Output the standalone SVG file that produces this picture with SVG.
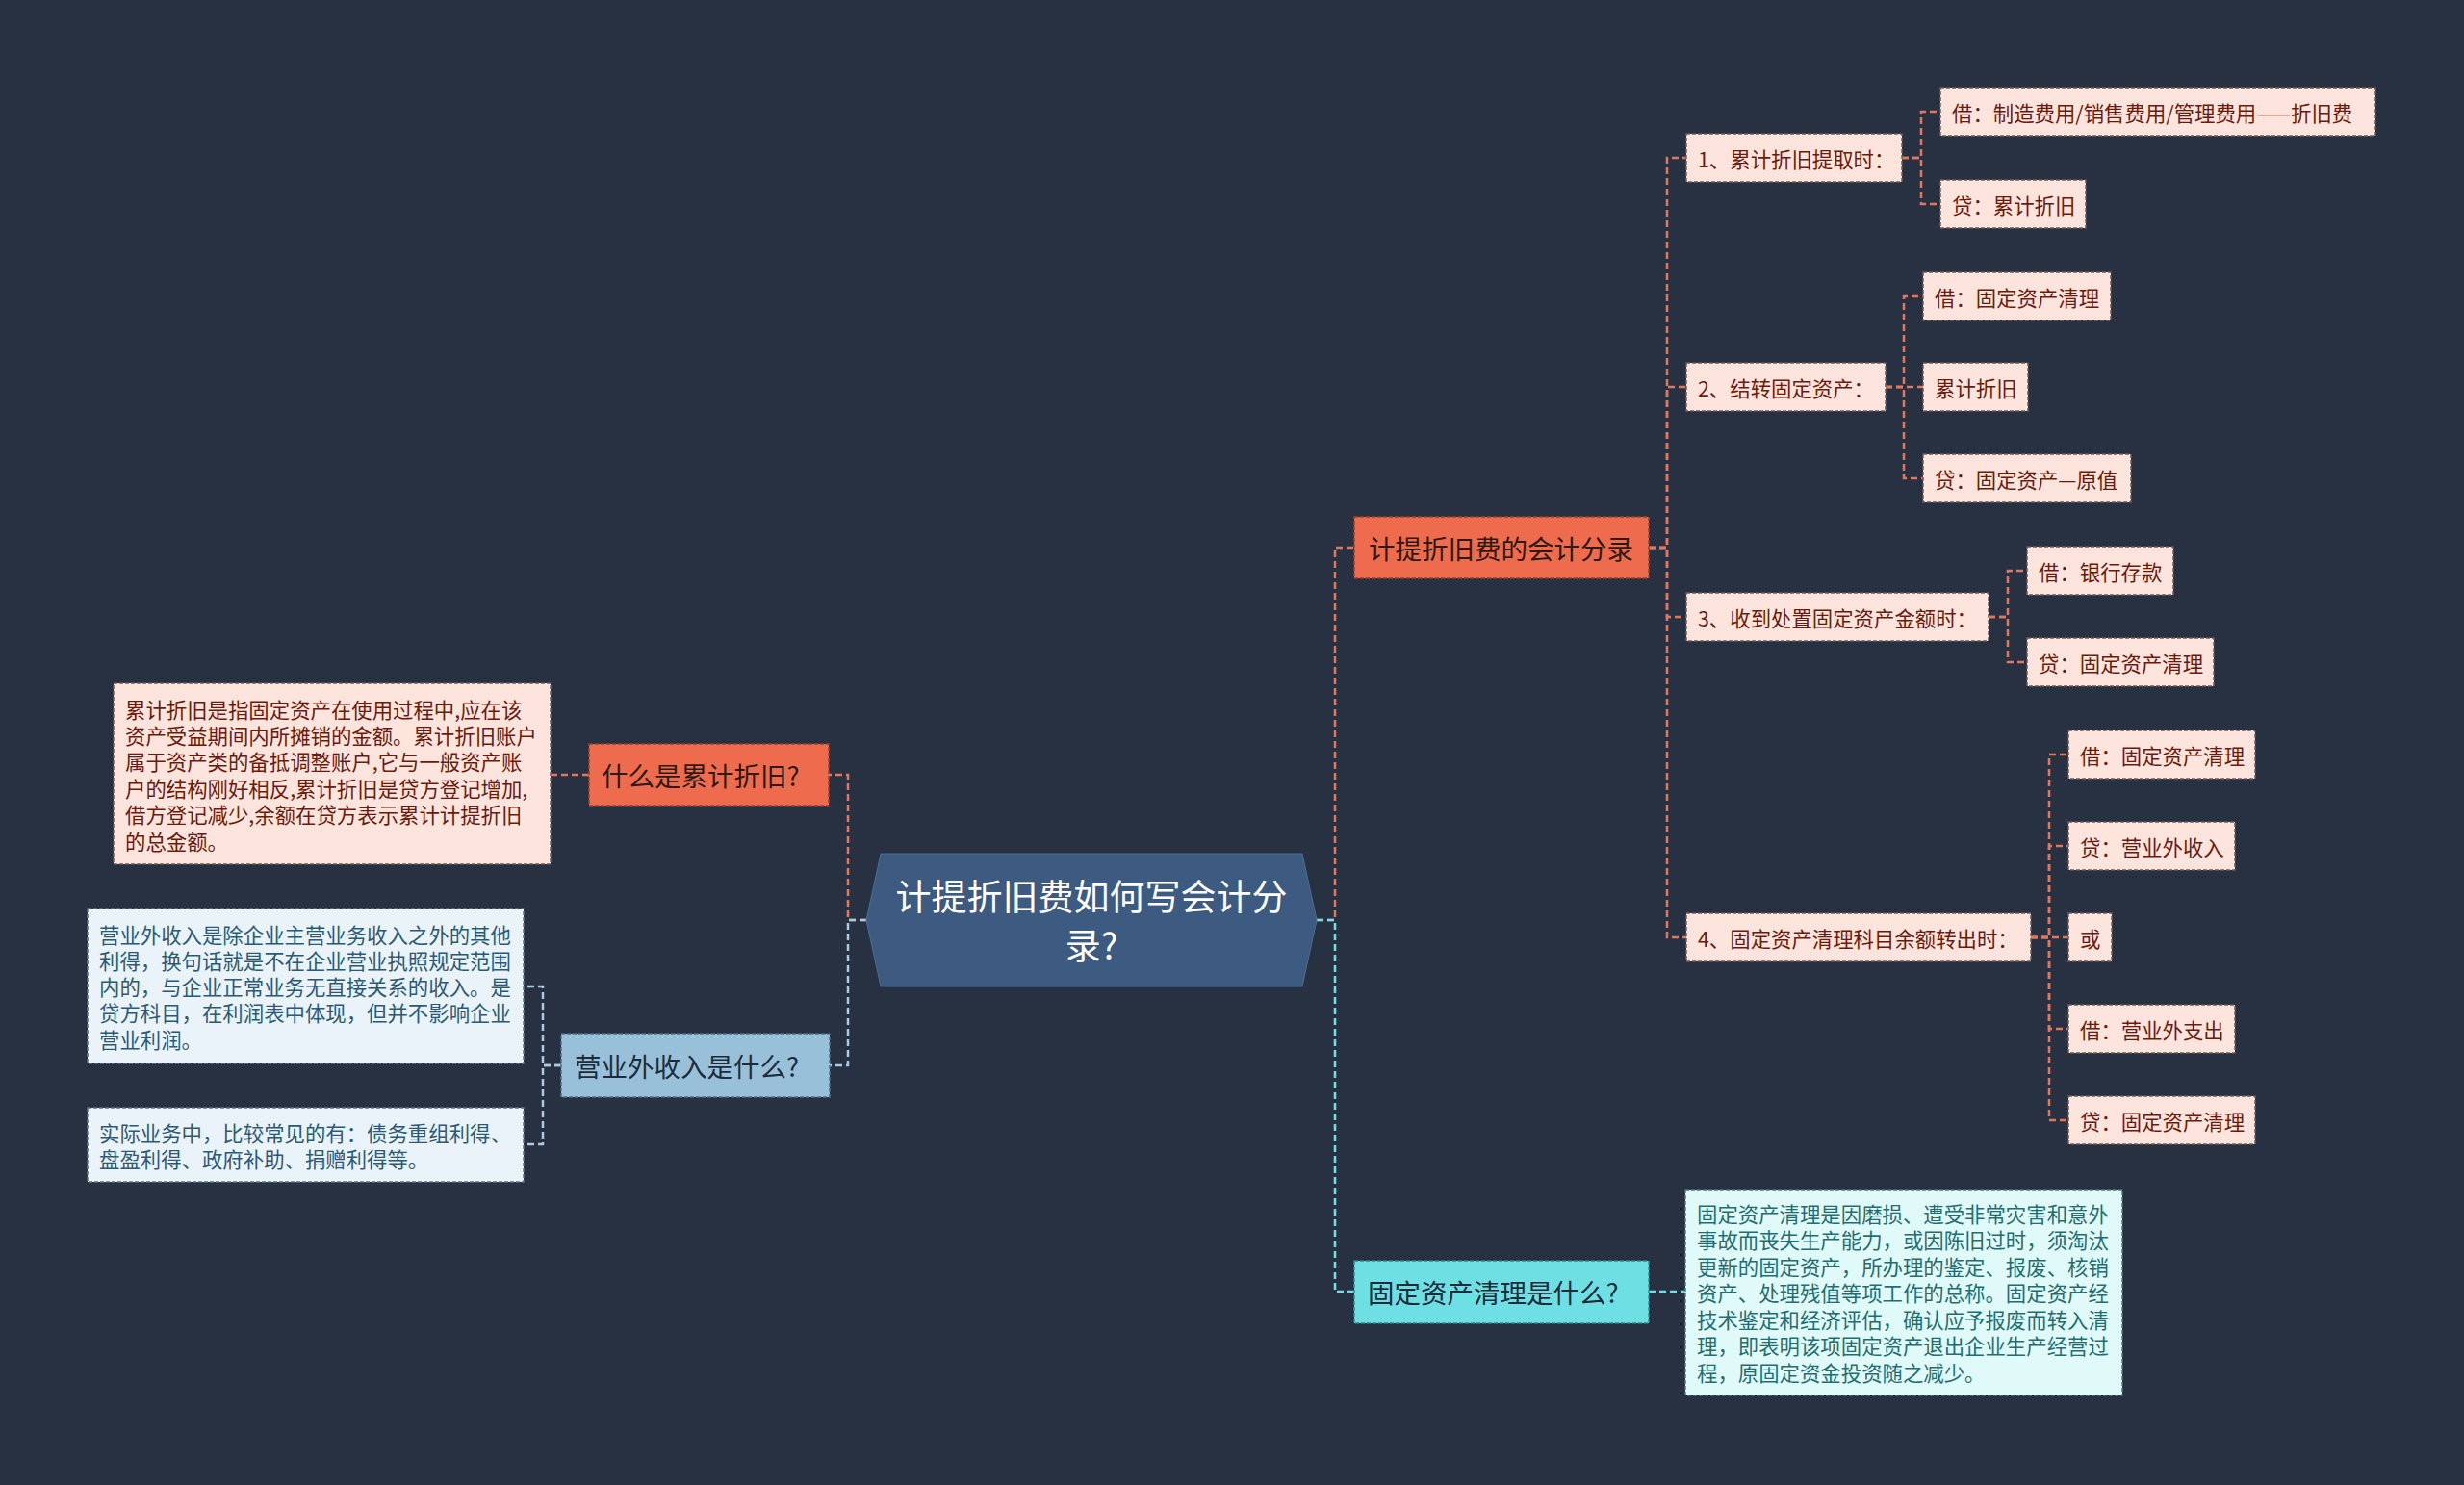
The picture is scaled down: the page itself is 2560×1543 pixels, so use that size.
<svg xmlns="http://www.w3.org/2000/svg" width="2560" height="1543" viewBox="0 0 2560 1543">
<style>
text{font-family:"Noto Sans CJK SC","Noto Sans",sans-serif;dominant-baseline:central}
.ln{fill:none;stroke-width:2.5;stroke-dasharray:7 4}
.lo{stroke:#e3775b}
.lb{stroke:#a9cbe3}
.lc{stroke:#6ee1e8}
.l1o{fill:#ee6c4d;stroke:#9c3f2b;stroke-width:1.5;stroke-dasharray:4 2}
.l1b{fill:#98c1d9;stroke:#4e6f86;stroke-width:1.5;stroke-dasharray:4 2}
.l1c{fill:#6ee0e3;stroke:#2f8a8e;stroke-width:1.5;stroke-dasharray:4 2}
.lf{fill:#fde4dd;stroke:#6e5a55;stroke-width:1.5;stroke-dasharray:4 2}
.lfb{fill:#e9f3f9;stroke:#5f7484;stroke-width:1.5;stroke-dasharray:4 2}
.lfc{fill:#e0f9f9;stroke:#4f7777;stroke-width:1.5;stroke-dasharray:4 2}
.t1{font-size:27.5px;fill:#2e1a14}
.t1d{font-size:27.5px;fill:#1d2b3a}
.tl{font-size:21.4px;fill:#6b1a0c}
.tb{font-size:21.4px;fill:#2b5a78}
.tc{font-size:21.4px;fill:#1f6e73}
</style>
<rect x="0" y="0" width="2560" height="1543" fill="#283142"/>
<g id="connectors">
<path class="ln lo" d="M1368,956 H1387 V569 H1407"/>
<path class="ln lc" d="M1368,956 H1387 V1342 H1407"/>
<path class="ln lo" d="M900,956 H881 V805 H861"/>
<path class="ln lb" d="M900,956 H881 V1107 H862"/>
<path class="ln lo" d="M1713,569 H1732 V164 H1752"/>
<path class="ln lo" d="M1713,569 H1732 V402 H1752"/>
<path class="ln lo" d="M1713,569 H1732 V641 H1752"/>
<path class="ln lo" d="M1713,569 H1732 V974 H1752"/>
<path class="ln lo" d="M1976,164 H1996 V116 H2016"/>
<path class="ln lo" d="M1976,164 H1996 V212 H2016"/>
<path class="ln lo" d="M1959,402 H1978 V308 H1998"/>
<path class="ln lo" d="M1959,402 H1978 V402 H1998"/>
<path class="ln lo" d="M1959,402 H1978 V497 H1998"/>
<path class="ln lo" d="M2066,641 H2086 V593 H2106"/>
<path class="ln lo" d="M2066,641 H2086 V688 H2106"/>
<path class="ln lo" d="M2110,974 H2129 V784 H2149"/>
<path class="ln lo" d="M2110,974 H2129 V879 H2149"/>
<path class="ln lo" d="M2110,974 H2129 V974 H2149"/>
<path class="ln lo" d="M2110,974 H2129 V1069 H2149"/>
<path class="ln lo" d="M2110,974 H2129 V1164 H2149"/>
<path class="ln lo" d="M612,805 H572"/>
<path class="ln lb" d="M583,1107 H564 V1025 H544"/>
<path class="ln lb" d="M583,1107 H564 V1189 H544"/>
<path class="ln lc" d="M1713,1342 H1751"/>
</g>
<g id="center">
<polygon points="915,887 1353,887 1368,956 1353,1025 915,1025 900,956" fill="#3d5a80" stroke="#4f6d94" stroke-width="1"/>
<text x="1134" y="930" font-size="37" fill="#ffffff" text-anchor="middle">计提折旧费如何写会计分</text>
<text x="1134" y="981" font-size="37" fill="#ffffff" text-anchor="middle">录?</text>
</g>
<g id="n-jiti">
<rect class="l1o" x="1407" y="537" width="306" height="64"/>
<text class="t1" x="1422" y="569">计提折旧费的会计分录</text>
</g>
<g id="n-shenme">
<rect class="l1o" x="612" y="773" width="249" height="64"/>
<text class="t1" x="625" y="805">什么是累计折旧?</text>
</g>
<g id="n-yingye">
<rect class="l1b" x="583" y="1074" width="279" height="66"/>
<text class="t1d" x="597" y="1107">营业外收入是什么?</text>
</g>
<g id="n-qingli">
<rect class="l1c" x="1407" y="1310" width="306" height="65"/>
<text class="t1d" x="1421" y="1342">固定资产清理是什么?</text>
</g>
<g id="n-1">
<rect class="lf" x="1752" y="139" width="224" height="50"/>
<text class="tl" x="1764" y="164">1、累计折旧提取时：</text>
</g>
<g id="n-2">
<rect class="lf" x="1752" y="377" width="207" height="50"/>
<text class="tl" x="1764" y="402">2、结转固定资产：</text>
</g>
<g id="n-3">
<rect class="lf" x="1752" y="616" width="314" height="50"/>
<text class="tl" x="1764" y="641">3、收到处置固定资产金额时：</text>
</g>
<g id="n-4">
<rect class="lf" x="1752" y="949" width="358" height="50"/>
<text class="tl" x="1764" y="974">4、固定资产清理科目余额转出时：</text>
</g>
<g id="n-1a">
<rect class="lf" x="2016" y="91" width="452" height="50"/>
<text class="tl" x="2028" y="116">借：制造费用/销售费用/管理费用——折旧费</text>
</g>
<g id="n-1b">
<rect class="lf" x="2016" y="187" width="151" height="50"/>
<text class="tl" x="2028" y="212">贷：累计折旧</text>
</g>
<g id="n-2a">
<rect class="lf" x="1998" y="283" width="195" height="50"/>
<text class="tl" x="2010" y="308">借：固定资产清理</text>
</g>
<g id="n-2b">
<rect class="lf" x="1998" y="377" width="109" height="50"/>
<text class="tl" x="2010" y="402">累计折旧</text>
</g>
<g id="n-2c">
<rect class="lf" x="1998" y="472" width="216" height="50"/>
<text class="tl" x="2010" y="497">贷：固定资产—原值</text>
</g>
<g id="n-3a">
<rect class="lf" x="2106" y="568" width="152" height="50"/>
<text class="tl" x="2118" y="593">借：银行存款</text>
</g>
<g id="n-3b">
<rect class="lf" x="2106" y="663" width="194" height="50"/>
<text class="tl" x="2118" y="688">贷：固定资产清理</text>
</g>
<g id="n-4a">
<rect class="lf" x="2149" y="759" width="194" height="50"/>
<text class="tl" x="2161" y="784">借：固定资产清理</text>
</g>
<g id="n-4b">
<rect class="lf" x="2149" y="854" width="173" height="50"/>
<text class="tl" x="2161" y="879">贷：营业外收入</text>
</g>
<g id="n-4c">
<rect class="lf" x="2149" y="949" width="45" height="50"/>
<text class="tl" x="2161" y="974">或</text>
</g>
<g id="n-4d">
<rect class="lf" x="2149" y="1044" width="173" height="50"/>
<text class="tl" x="2161" y="1069">借：营业外支出</text>
</g>
<g id="n-4e">
<rect class="lf" x="2149" y="1139" width="194" height="50"/>
<text class="tl" x="2161" y="1164">贷：固定资产清理</text>
</g>
<g id="n-desc1">
<rect class="lf" x="118" y="710" width="454" height="188"/>
<text class="tl" x="130" y="736">累计折旧是指固定资产在使用过程中,应在该</text>
<text class="tl" x="130" y="763.4">资产受益期间内所摊销的金额。累计折旧账户</text>
<text class="tl" x="130" y="790.8">属于资产类的备抵调整账户,它与一般资产账</text>
<text class="tl" x="130" y="818.2">户的结构刚好相反,累计折旧是贷方登记增加,</text>
<text class="tl" x="130" y="845.6">借方登记减少,余额在贷方表示累计计提折旧</text>
<text class="tl" x="130" y="873">的总金额。</text>
</g>
<g id="n-desc2">
<rect class="lfb" x="91" y="944" width="453" height="161"/>
<text class="tb" x="103" y="970">营业外收入是除企业主营业务收入之外的其他</text>
<text class="tb" x="103" y="997.3">利得，换句话就是不在企业营业执照规定范围</text>
<text class="tb" x="103" y="1024.6">内的，与企业正常业务无直接关系的收入。是</text>
<text class="tb" x="103" y="1051.9">贷方科目，在利润表中体现，但并不影响企业</text>
<text class="tb" x="103" y="1079.2">营业利润。</text>
</g>
<g id="n-desc3">
<rect class="lfb" x="91" y="1151" width="453" height="77"/>
<text class="tb" x="103" y="1176">实际业务中，比较常见的有：债务重组利得、</text>
<text class="tb" x="103" y="1203.3">盘盈利得、政府补助、捐赠利得等。</text>
</g>
<g id="n-desc4">
<rect class="lfc" x="1751" y="1236" width="454" height="214"/>
<text class="tc" x="1763" y="1260">固定资产清理是因磨损、遭受非常灾害和意外</text>
<text class="tc" x="1763" y="1287.5">事故而丧失生产能力，或因陈旧过时，须淘汰</text>
<text class="tc" x="1763" y="1315">更新的固定资产，所办理的鉴定、报废、核销</text>
<text class="tc" x="1763" y="1342.5">资产、处理残值等项工作的总称。固定资产经</text>
<text class="tc" x="1763" y="1370">技术鉴定和经济评估，确认应予报废而转入清</text>
<text class="tc" x="1763" y="1397.5">理，即表明该项固定资产退出企业生产经营过</text>
<text class="tc" x="1763" y="1425">程，原固定资金投资随之减少。</text>
</g>
</svg>
